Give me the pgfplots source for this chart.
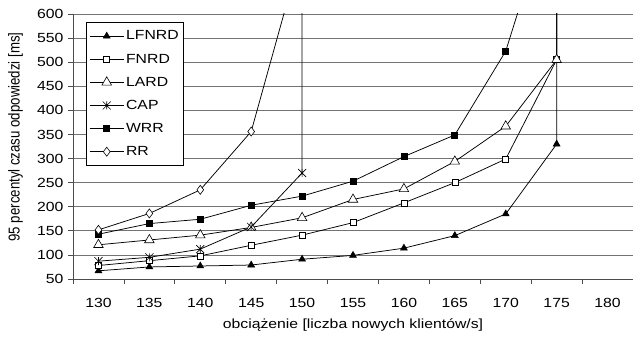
\documentclass[border=0pt]{standalone}
\usepackage{fontspec}
\setmainfont{Liberation Sans}
\usepackage{graphicx}
\usepackage{pgfplots}
\pgfplotsset{compat=1.18}
\newcommand\sx[1]{\scalebox{1.19}[1]{#1}}
\pgfdeclareplotmark{xstar}{%
  \pgfpathmoveto{\pgfqpoint{0pt}{\pgfplotmarksize}}\pgfpathlineto{\pgfqpoint{0pt}{-\pgfplotmarksize}}%
  \pgfpathmoveto{\pgfqpoint{\pgfplotmarksize}{\pgfplotmarksize}}\pgfpathlineto{\pgfqpoint{-\pgfplotmarksize}{-\pgfplotmarksize}}%
  \pgfpathmoveto{\pgfqpoint{-\pgfplotmarksize}{\pgfplotmarksize}}\pgfpathlineto{\pgfqpoint{\pgfplotmarksize}{-\pgfplotmarksize}}%
  \pgfusepathqstroke}
\begin{document}
\begin{tikzpicture}
\begin{axis}[
  scale only axis, width=560bp, height=265bp,
  xmin=127.5, xmax=182.5, ymin=50, ymax=600,
  axis lines*=left, axis line style={line width=0.75bp, black!70},
  xtick={130,135,...,180},
  minor xtick={127.5,132.5,...,182.5},
  ytick={50,100,...,600},
  tick align=outside,
  major x tick style={draw=none},
  minor x tick style={line width=0.75bp, black!70},
  major y tick style={line width=0.75bp, black!70},
  minor tick length=5bp, major tick length=5bp,
  ymajorgrids, grid style={line width=0.75bp, black!55},
  /pgf/number format/assume math mode=true,
  /pgf/number format/set thousands separator={},
  tick label style={font=\fontsize{13.3}{15}\selectfont},
  xticklabel={\sx{\pgfmathprintnumber{\tick}}},
  yticklabel={\sx{\pgfmathprintnumber{\tick}}},
  xticklabel style={yshift=-10.5bp},
  yticklabel style={xshift=-1bp},
  xlabel={\sx{obciążenie [liczba nowych klientów/s]}},
  ylabel={\scalebox{1}[1.19]{95 percentyl czasu odpowiedzi [ms]}},
  label style={font=\fontsize{13.3}{15}\selectfont},
  xlabel style={at={(axis description cs:0.5,0)}, anchor=center, yshift=-46bp},
  ylabel style={at={(axis description cs:-0.1027,0.536)}, anchor=center},
  legend style={at={(0.0232,0.97)}, anchor=north west, draw=black, line width=0.75bp,
    fill=white, font=\fontsize{13.3}{15}\selectfont, inner xsep=3bp, inner ysep=6.5bp,
    row sep=8.5bp},
  legend cell align=left,
  legend image code/.code={\draw[mark repeat=2,mark phase=2,line width=0.75bp] plot coordinates {(0bp,0bp) (17bp,0bp) (34bp,0bp)};},
  every axis plot/.append style={line width=0.75bp, black},
]
\coordinate (bl) at (rel axis cs:0,0);
\coordinate (tr) at (rel axis cs:1,1);
\addplot[mark=triangle*, mark size=4bp, mark options={fill=black, line width=0.5bp}] coordinates {
  (130,67) (135,75) (140,77) (145,79) (150,91) (155,99) (160,114) (165,140) (170,185) (175,330) (175,3000)};
\addlegendentry{\sx{LFNRD}}
\addplot[mark=square*, mark size=3bp, mark options={fill=white, line width=0.6bp}] coordinates {
  (130,78) (135,88) (140,98) (145,120) (150,141) (155,167) (160,208) (165,250) (170,299) (175,505) (175,3000)};
\addlegendentry{\sx{FNRD}}
\addplot[mark=triangle*, mark size=5.5bp, mark options={fill=white, line width=0.6bp}] coordinates {
  (130,121) (135,131) (140,141) (145,157) (150,177) (155,215) (160,237) (165,294) (170,367) (175,505) (175,3000)};
\addlegendentry{\sx{LARD}}
\addplot[mark=xstar, mark size=4bp, mark options={line width=0.6bp}] coordinates {
  (130,87) (135,95) (140,112) (145,158) (150,270) (150,3000)};
\addlegendentry{\sx{CAP}}
\addplot[mark=square*, mark size=3bp, mark options={fill=black}] coordinates {
  (130,143) (135,165) (140,174) (145,203) (150,222) (155,253) (160,304) (165,349) (170,523) (175,860)};
\addlegendentry{\sx{WRR}}
\addplot[mark=diamond*, mark size=4.5bp, mark options={fill=white, line width=0.6bp}] coordinates {
  (130,152) (135,186) (140,235) (145,356) (150,736)};
\addlegendentry{\sx{RR}}
\end{axis}
\pgfresetboundingbox
\path[use as bounding box] ([shift={(-73bp,-58bp)}]bl) rectangle ([shift={(0bp,14bp)}]tr);
\end{tikzpicture}
\end{document}
